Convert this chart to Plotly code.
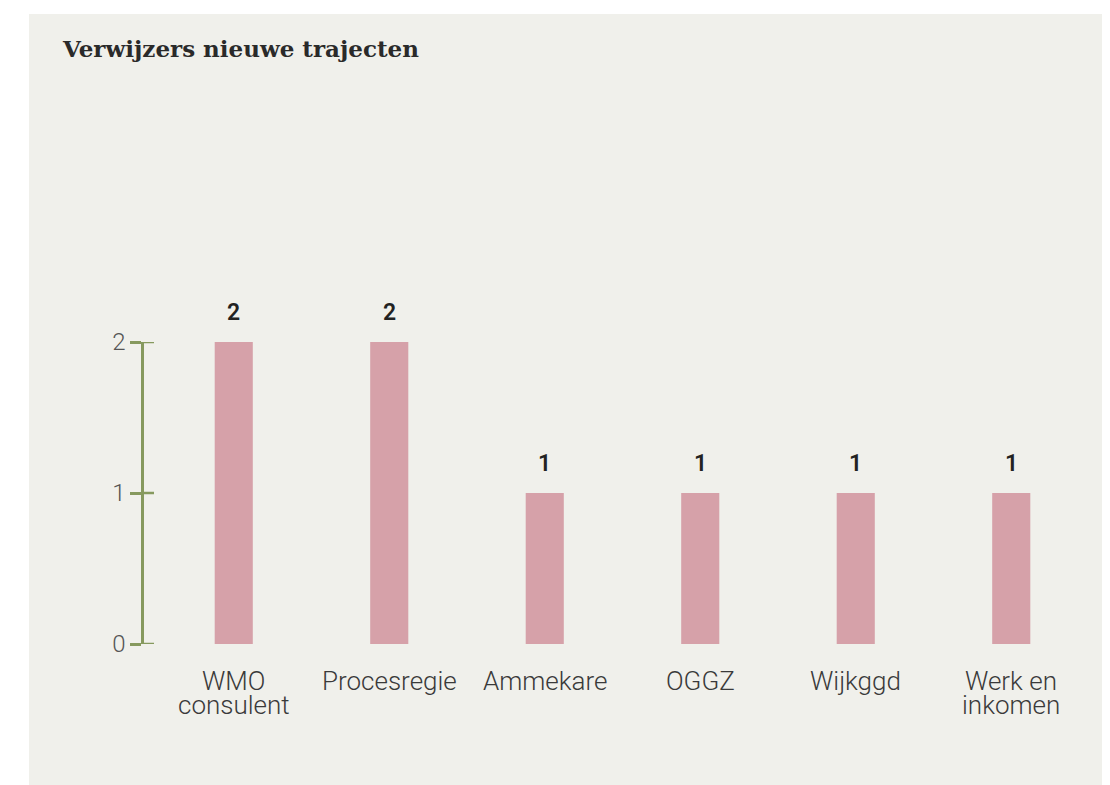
import plotly.graph_objects as go

# data
categories = ["WMO<br>consulent", "Procesregie", "Ammekare", "OGGZ", "Wijkggd", "Werk en<br>inkomen"]
values = [2, 2, 1, 1, 1, 1]
y_ticks = [0, 1, 2]

title = "Verwijzers nieuwe trajecten"

panel = "#f0f0eb"
bar_col = "#d6a1a9"
axis_col = "#86995e"

# the page body has an 8px margin, so the figure starts 8px in
off = 8
W, H = 1110 - off, 785 - off
ml, mr, mt, mb = 144 - off, 21, 342 - off, 141
pw, ph = W - ml - mr, H - mt - mb

fig = go.Figure(go.Bar(
    x=list(range(len(categories))), y=values,
    marker_color=bar_col, marker_line_width=0,
    hoverinfo="skip",
))

# value labels above bars
for i, v in enumerate(values):
    fig.add_annotation(x=i, y=v, text=str(v), showarrow=False,
                       yanchor="middle", yshift=30,
                       font=dict(family="Roboto", size=23, color="#222222", weight=600))

# category labels, one annotation per line so the lines sit close together
for i, cat in enumerate(categories):
    for j, line in enumerate(cat.split("<br>")):
        fig.add_annotation(x=i, y=0, text=line, showarrow=False,
                           yanchor="middle", yshift=-37 - 24 * j,
                           font=dict(family="Roboto", size=26, color="#3a3a3a", weight=300))

# panel background
fig.add_shape(type="rect", xref="paper", yref="paper",
              x0=(29 - off - ml) / pw, x1=(W - ml) / pw,
              y0=(mt + ph - H) / ph, y1=(mt + ph - (14 - off)) / ph,
              fillcolor=panel, line_width=0, layer="below")

# inner half of the y tick marks
for t in y_ticks:
    fig.add_shape(type="line", xref="paper", yref="y",
                  x0=0, x1=10 / pw, y0=t, y1=t,
                  line=dict(color=axis_col, width=2.5))

fig.update_layout(
    width=W, height=H,
    margin=dict(l=ml, r=mr, t=mt, b=mb),
    paper_bgcolor="white",
    plot_bgcolor=panel,
    bargap=0.755,
    showlegend=False,
    title=dict(text=title, x=(63 - off) / W, xanchor="left", xref="container",
               y=1 - (49 - off) / H, yanchor="middle", yref="container",
               font=dict(family="DejaVu Serif", size=23, color="#2a2a2a", weight=600)),
)

fig.update_xaxes(
    range=[-0.5 - 12 / 155.5, len(categories) - 0.5],
    showticklabels=False, ticks="",
    showline=False, showgrid=False, zeroline=False,
)

fig.update_yaxes(
    range=[0, 2], tickvals=y_ticks,
    showline=True, linecolor=axis_col, linewidth=2.5,
    ticks="outside", ticklen=11, tickwidth=2.5, tickcolor=axis_col,
    showgrid=False, zeroline=False,
    tickfont=dict(family="Roboto", size=24, color="#555555", weight=300),
)

fig.write_html("out.html")
